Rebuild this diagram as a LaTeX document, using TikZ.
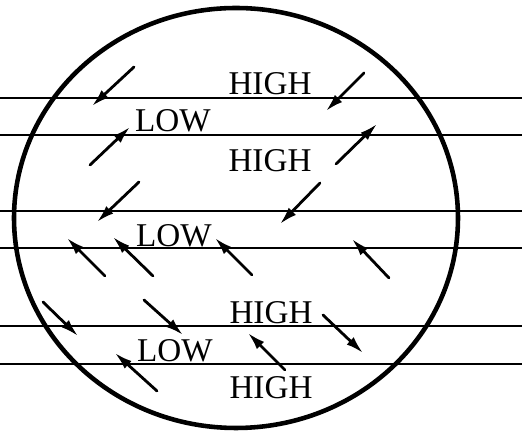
\documentclass[tikz,border=0pt]{standalone}
\usepackage{fontspec}
\setmainfont{Liberation Serif}
\usetikzlibrary{arrows.meta}
\begin{document}
\begin{tikzpicture}[x=0.02cm,y=-0.02cm,
    isobar/.style={line width=0.9pt},
    globe/.style={line width=2.6pt},
    wind/.style={line width=1.6pt,line cap=round,-{Latex[length=10pt,width=5.8pt]}},
    lbl/.style={inner sep=0pt,font=\fontsize{18.9}{22}\selectfont}]
	\useasboundingbox (0,0) rectangle (522,431);
	% isobars
	\foreach \y in {98,135,211,248,326,364}
		\draw[isobar] (0,\y) -- (522,\y);
	% the globe
	\draw[globe] (236,218) ellipse [x radius=222, y radius=210];
	% pressure labels
	\node[lbl] (h1) at (270,84) {HIGH};
	\node[lbl] (l1) at (173,121) {LOW};
	\node[lbl] (h2) at (270,161) {HIGH};
	\node[lbl] (l2) at (174,236) {LOW};
	\node[lbl] (h3) at (271,313) {HIGH};
	\node[lbl] (l3) at (175,351) {LOW};
	\node[lbl] (h4) at (271,388) {HIGH};
	% winds
	\foreach \xa/\ya/\xb/\yb in {134/67/92/106, 90/165/130/127, 139/182/97/222,
		364/73/326/111, 336/164/377/124, 320/183/280/224,
		105/276/67/238, 153/276/113/237, 252/275/215/238,
		43/302/78/336, 144/300/183/335, 157/391/115/353,
		389/278/352/239, 323/315/363/353, 285/370/248/333}
		\draw[wind] (\xa,\ya) -- (\xb,\yb);
\end{tikzpicture}
\end{document}
